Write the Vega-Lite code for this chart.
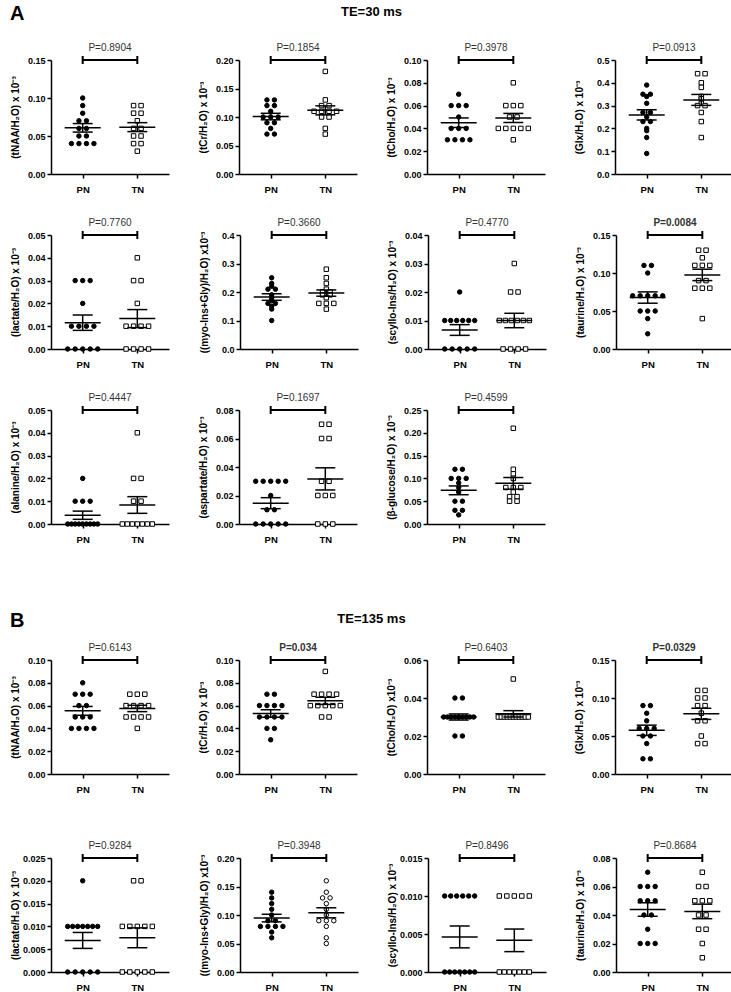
{
"$schema":"https://vega.github.io/schema/vega-lite/v6.json",
"padding":{"left":10,"top":4,"right":0,"bottom":2},
"datasets":{"d":[
{"p":"A1","g":"PN","v":0.10},{"p":"A1","g":"PN","v":0.09},{"p":"A1","g":"PN","v":0.08},{"p":"A1","g":"PN","v":0.07},{"p":"A1","g":"PN","v":0.07},{"p":"A1","g":"PN","v":0.06},{"p":"A1","g":"PN","v":0.06},{"p":"A1","g":"PN","v":0.05},{"p":"A1","g":"PN","v":0.05},{"p":"A1","g":"PN","v":0.04},{"p":"A1","g":"PN","v":0.04},{"p":"A1","g":"PN","v":0.04},{"p":"A1","g":"PN","v":0.04},
{"p":"A1","g":"TN","v":0.09},{"p":"A1","g":"TN","v":0.09},{"p":"A1","g":"TN","v":0.08},{"p":"A1","g":"TN","v":0.08},{"p":"A1","g":"TN","v":0.07},{"p":"A1","g":"TN","v":0.06},{"p":"A1","g":"TN","v":0.06},{"p":"A1","g":"TN","v":0.05},{"p":"A1","g":"TN","v":0.05},{"p":"A1","g":"TN","v":0.04},{"p":"A1","g":"TN","v":0.04},{"p":"A1","g":"TN","v":0.03},
{"p":"A2","g":"PN","v":0.13},{"p":"A2","g":"PN","v":0.13},{"p":"A2","g":"PN","v":0.12},{"p":"A2","g":"PN","v":0.12},{"p":"A2","g":"PN","v":0.11},{"p":"A2","g":"PN","v":0.10},{"p":"A2","g":"PN","v":0.10},{"p":"A2","g":"PN","v":0.10},{"p":"A2","g":"PN","v":0.09},{"p":"A2","g":"PN","v":0.09},{"p":"A2","g":"PN","v":0.08},{"p":"A2","g":"PN","v":0.07},{"p":"A2","g":"PN","v":0.07},
{"p":"A2","g":"TN","v":0.18},{"p":"A2","g":"TN","v":0.13},{"p":"A2","g":"TN","v":0.12},{"p":"A2","g":"TN","v":0.12},{"p":"A2","g":"TN","v":0.11},{"p":"A2","g":"TN","v":0.11},{"p":"A2","g":"TN","v":0.11},{"p":"A2","g":"TN","v":0.11},{"p":"A2","g":"TN","v":0.10},{"p":"A2","g":"TN","v":0.10},{"p":"A2","g":"TN","v":0.08},{"p":"A2","g":"TN","v":0.07},
{"p":"A3","g":"PN","v":0.07},{"p":"A3","g":"PN","v":0.06},{"p":"A3","g":"PN","v":0.06},{"p":"A3","g":"PN","v":0.06},{"p":"A3","g":"PN","v":0.05},{"p":"A3","g":"PN","v":0.04},{"p":"A3","g":"PN","v":0.04},{"p":"A3","g":"PN","v":0.04},{"p":"A3","g":"PN","v":0.03},{"p":"A3","g":"PN","v":0.03},{"p":"A3","g":"PN","v":0.03},{"p":"A3","g":"PN","v":0.03},
{"p":"A3","g":"TN","v":0.08},{"p":"A3","g":"TN","v":0.06},{"p":"A3","g":"TN","v":0.06},{"p":"A3","g":"TN","v":0.06},{"p":"A3","g":"TN","v":0.05},{"p":"A3","g":"TN","v":0.05},{"p":"A3","g":"TN","v":0.04},{"p":"A3","g":"TN","v":0.04},{"p":"A3","g":"TN","v":0.04},{"p":"A3","g":"TN","v":0.04},{"p":"A3","g":"TN","v":0.04},{"p":"A3","g":"TN","v":0.03},
{"p":"A4","g":"PN","v":0.39},{"p":"A4","g":"PN","v":0.35},{"p":"A4","g":"PN","v":0.35},{"p":"A4","g":"PN","v":0.34},{"p":"A4","g":"PN","v":0.31},{"p":"A4","g":"PN","v":0.27},{"p":"A4","g":"PN","v":0.27},{"p":"A4","g":"PN","v":0.25},{"p":"A4","g":"PN","v":0.23},{"p":"A4","g":"PN","v":0.23},{"p":"A4","g":"PN","v":0.20},{"p":"A4","g":"PN","v":0.19},{"p":"A4","g":"PN","v":0.16},{"p":"A4","g":"PN","v":0.09},
{"p":"A4","g":"TN","v":0.44},{"p":"A4","g":"TN","v":0.44},{"p":"A4","g":"TN","v":0.40},{"p":"A4","g":"TN","v":0.38},{"p":"A4","g":"TN","v":0.34},{"p":"A4","g":"TN","v":0.33},{"p":"A4","g":"TN","v":0.31},{"p":"A4","g":"TN","v":0.30},{"p":"A4","g":"TN","v":0.30},{"p":"A4","g":"TN","v":0.27},{"p":"A4","g":"TN","v":0.23},{"p":"A4","g":"TN","v":0.16},
{"p":"A5","g":"PN","v":0.03},{"p":"A5","g":"PN","v":0.03},{"p":"A5","g":"PN","v":0.03},{"p":"A5","g":"PN","v":0.02},{"p":"A5","g":"PN","v":0.01},{"p":"A5","g":"PN","v":0.01},{"p":"A5","g":"PN","v":0.01},{"p":"A5","g":"PN","v":0.01},{"p":"A5","g":"PN","v":0},{"p":"A5","g":"PN","v":0},{"p":"A5","g":"PN","v":0},{"p":"A5","g":"PN","v":0},{"p":"A5","g":"PN","v":0},
{"p":"A5","g":"TN","v":0.04},{"p":"A5","g":"TN","v":0.03},{"p":"A5","g":"TN","v":0.03},{"p":"A5","g":"TN","v":0.02},{"p":"A5","g":"TN","v":0.01},{"p":"A5","g":"TN","v":0.01},{"p":"A5","g":"TN","v":0.01},{"p":"A5","g":"TN","v":0.01},{"p":"A5","g":"TN","v":0},{"p":"A5","g":"TN","v":0},{"p":"A5","g":"TN","v":0},{"p":"A5","g":"TN","v":0},
{"p":"A6","g":"PN","v":0.25},{"p":"A6","g":"PN","v":0.23},{"p":"A6","g":"PN","v":0.22},{"p":"A6","g":"PN","v":0.21},{"p":"A6","g":"PN","v":0.21},{"p":"A6","g":"PN","v":0.19},{"p":"A6","g":"PN","v":0.18},{"p":"A6","g":"PN","v":0.17},{"p":"A6","g":"PN","v":0.16},{"p":"A6","g":"PN","v":0.16},{"p":"A6","g":"PN","v":0.15},{"p":"A6","g":"PN","v":0.14},{"p":"A6","g":"PN","v":0.10},
{"p":"A6","g":"TN","v":0.28},{"p":"A6","g":"TN","v":0.25},{"p":"A6","g":"TN","v":0.23},{"p":"A6","g":"TN","v":0.21},{"p":"A6","g":"TN","v":0.20},{"p":"A6","g":"TN","v":0.20},{"p":"A6","g":"TN","v":0.19},{"p":"A6","g":"TN","v":0.19},{"p":"A6","g":"TN","v":0.18},{"p":"A6","g":"TN","v":0.16},{"p":"A6","g":"TN","v":0.16},{"p":"A6","g":"TN","v":0.16},{"p":"A6","g":"TN","v":0.14},
{"p":"A7","g":"PN","v":0.02},{"p":"A7","g":"PN","v":0.01},{"p":"A7","g":"PN","v":0.01},{"p":"A7","g":"PN","v":0.01},{"p":"A7","g":"PN","v":0.01},{"p":"A7","g":"PN","v":0.01},{"p":"A7","g":"PN","v":0.01},{"p":"A7","g":"PN","v":0},{"p":"A7","g":"PN","v":0},{"p":"A7","g":"PN","v":0},{"p":"A7","g":"PN","v":0},{"p":"A7","g":"PN","v":0},
{"p":"A7","g":"TN","v":0.03},{"p":"A7","g":"TN","v":0.02},{"p":"A7","g":"TN","v":0.02},{"p":"A7","g":"TN","v":0.01},{"p":"A7","g":"TN","v":0.01},{"p":"A7","g":"TN","v":0.01},{"p":"A7","g":"TN","v":0.01},{"p":"A7","g":"TN","v":0.01},{"p":"A7","g":"TN","v":0.01},{"p":"A7","g":"TN","v":0},{"p":"A7","g":"TN","v":0},{"p":"A7","g":"TN","v":0},{"p":"A7","g":"TN","v":0},
{"p":"A8","g":"PN","v":0.11},{"p":"A8","g":"PN","v":0.11},{"p":"A8","g":"PN","v":0.10},{"p":"A8","g":"PN","v":0.07},{"p":"A8","g":"PN","v":0.07},{"p":"A8","g":"PN","v":0.07},{"p":"A8","g":"PN","v":0.07},{"p":"A8","g":"PN","v":0.07},{"p":"A8","g":"PN","v":0.05},{"p":"A8","g":"PN","v":0.05},{"p":"A8","g":"PN","v":0.05},{"p":"A8","g":"PN","v":0.04},{"p":"A8","g":"PN","v":0.02},
{"p":"A8","g":"TN","v":0.13},{"p":"A8","g":"TN","v":0.13},{"p":"A8","g":"TN","v":0.12},{"p":"A8","g":"TN","v":0.11},{"p":"A8","g":"TN","v":0.11},{"p":"A8","g":"TN","v":0.11},{"p":"A8","g":"TN","v":0.09},{"p":"A8","g":"TN","v":0.09},{"p":"A8","g":"TN","v":0.08},{"p":"A8","g":"TN","v":0.08},{"p":"A8","g":"TN","v":0.08},{"p":"A8","g":"TN","v":0.04},
{"p":"A9","g":"PN","v":0.02},{"p":"A9","g":"PN","v":0.01},{"p":"A9","g":"PN","v":0.01},{"p":"A9","g":"PN","v":0.01},{"p":"A9","g":"PN","v":0},{"p":"A9","g":"PN","v":0},{"p":"A9","g":"PN","v":0},{"p":"A9","g":"PN","v":0},{"p":"A9","g":"PN","v":0},{"p":"A9","g":"PN","v":0},{"p":"A9","g":"PN","v":0},{"p":"A9","g":"PN","v":0},{"p":"A9","g":"PN","v":0},
{"p":"A9","g":"TN","v":0.04},{"p":"A9","g":"TN","v":0.02},{"p":"A9","g":"TN","v":0.02},{"p":"A9","g":"TN","v":0.01},{"p":"A9","g":"TN","v":0.01},{"p":"A9","g":"TN","v":0},{"p":"A9","g":"TN","v":0},{"p":"A9","g":"TN","v":0},{"p":"A9","g":"TN","v":0},{"p":"A9","g":"TN","v":0},{"p":"A9","g":"TN","v":0},{"p":"A9","g":"TN","v":0},
{"p":"A10","g":"PN","v":0.03},{"p":"A10","g":"PN","v":0.03},{"p":"A10","g":"PN","v":0.03},{"p":"A10","g":"PN","v":0.03},{"p":"A10","g":"PN","v":0.03},{"p":"A10","g":"PN","v":0.02},{"p":"A10","g":"PN","v":0.01},{"p":"A10","g":"PN","v":0.01},{"p":"A10","g":"PN","v":0},{"p":"A10","g":"PN","v":0},{"p":"A10","g":"PN","v":0},{"p":"A10","g":"PN","v":0},{"p":"A10","g":"PN","v":0},
{"p":"A10","g":"TN","v":0.07},{"p":"A10","g":"TN","v":0.07},{"p":"A10","g":"TN","v":0.06},{"p":"A10","g":"TN","v":0.06},{"p":"A10","g":"TN","v":0.03},{"p":"A10","g":"TN","v":0.03},{"p":"A10","g":"TN","v":0.02},{"p":"A10","g":"TN","v":0.02},{"p":"A10","g":"TN","v":0.02},{"p":"A10","g":"TN","v":0},{"p":"A10","g":"TN","v":0},{"p":"A10","g":"TN","v":0},
{"p":"A11","g":"PN","v":0.12},{"p":"A11","g":"PN","v":0.12},{"p":"A11","g":"PN","v":0.10},{"p":"A11","g":"PN","v":0.10},{"p":"A11","g":"PN","v":0.10},{"p":"A11","g":"PN","v":0.09},{"p":"A11","g":"PN","v":0.08},{"p":"A11","g":"PN","v":0.07},{"p":"A11","g":"PN","v":0.05},{"p":"A11","g":"PN","v":0.05},{"p":"A11","g":"PN","v":0.03},{"p":"A11","g":"PN","v":0.03},{"p":"A11","g":"PN","v":0.02},
{"p":"A11","g":"TN","v":0.21},{"p":"A11","g":"TN","v":0.12},{"p":"A11","g":"TN","v":0.11},{"p":"A11","g":"TN","v":0.10},{"p":"A11","g":"TN","v":0.08},{"p":"A11","g":"TN","v":0.08},{"p":"A11","g":"TN","v":0.08},{"p":"A11","g":"TN","v":0.07},{"p":"A11","g":"TN","v":0.06},{"p":"A11","g":"TN","v":0.06},{"p":"A11","g":"TN","v":0.05},{"p":"A11","g":"TN","v":0.05},
{"p":"B1","g":"PN","v":0.08},{"p":"B1","g":"PN","v":0.07},{"p":"B1","g":"PN","v":0.07},{"p":"B1","g":"PN","v":0.07},{"p":"B1","g":"PN","v":0.06},{"p":"B1","g":"PN","v":0.06},{"p":"B1","g":"PN","v":0.05},{"p":"B1","g":"PN","v":0.05},{"p":"B1","g":"PN","v":0.05},{"p":"B1","g":"PN","v":0.04},{"p":"B1","g":"PN","v":0.04},{"p":"B1","g":"PN","v":0.04},{"p":"B1","g":"PN","v":0.04},
{"p":"B1","g":"TN","v":0.07},{"p":"B1","g":"TN","v":0.07},{"p":"B1","g":"TN","v":0.07},{"p":"B1","g":"TN","v":0.06},{"p":"B1","g":"TN","v":0.06},{"p":"B1","g":"TN","v":0.06},{"p":"B1","g":"TN","v":0.06},{"p":"B1","g":"TN","v":0.05},{"p":"B1","g":"TN","v":0.05},{"p":"B1","g":"TN","v":0.05},{"p":"B1","g":"TN","v":0.05},{"p":"B1","g":"TN","v":0.04},
{"p":"B2","g":"PN","v":0.07},{"p":"B2","g":"PN","v":0.07},{"p":"B2","g":"PN","v":0.06},{"p":"B2","g":"PN","v":0.06},{"p":"B2","g":"PN","v":0.06},{"p":"B2","g":"PN","v":0.06},{"p":"B2","g":"PN","v":0.05},{"p":"B2","g":"PN","v":0.05},{"p":"B2","g":"PN","v":0.05},{"p":"B2","g":"PN","v":0.05},{"p":"B2","g":"PN","v":0.04},{"p":"B2","g":"PN","v":0.04},{"p":"B2","g":"PN","v":0.03},
{"p":"B2","g":"TN","v":0.09},{"p":"B2","g":"TN","v":0.07},{"p":"B2","g":"TN","v":0.07},{"p":"B2","g":"TN","v":0.07},{"p":"B2","g":"TN","v":0.07},{"p":"B2","g":"TN","v":0.06},{"p":"B2","g":"TN","v":0.06},{"p":"B2","g":"TN","v":0.06},{"p":"B2","g":"TN","v":0.06},{"p":"B2","g":"TN","v":0.06},{"p":"B2","g":"TN","v":0.05},{"p":"B2","g":"TN","v":0.05},
{"p":"B3","g":"PN","v":0.04},{"p":"B3","g":"PN","v":0.04},{"p":"B3","g":"PN","v":0.03},{"p":"B3","g":"PN","v":0.03},{"p":"B3","g":"PN","v":0.03},{"p":"B3","g":"PN","v":0.03},{"p":"B3","g":"PN","v":0.03},{"p":"B3","g":"PN","v":0.03},{"p":"B3","g":"PN","v":0.03},{"p":"B3","g":"PN","v":0.03},{"p":"B3","g":"PN","v":0.03},{"p":"B3","g":"PN","v":0.02},{"p":"B3","g":"PN","v":0.02},
{"p":"B3","g":"TN","v":0.05},{"p":"B3","g":"TN","v":0.03},{"p":"B3","g":"TN","v":0.03},{"p":"B3","g":"TN","v":0.03},{"p":"B3","g":"TN","v":0.03},{"p":"B3","g":"TN","v":0.03},{"p":"B3","g":"TN","v":0.03},{"p":"B3","g":"TN","v":0.03},{"p":"B3","g":"TN","v":0.03},{"p":"B3","g":"TN","v":0.03},{"p":"B3","g":"TN","v":0.03},{"p":"B3","g":"TN","v":0.03},
{"p":"B4","g":"PN","v":0.09},{"p":"B4","g":"PN","v":0.09},{"p":"B4","g":"PN","v":0.08},{"p":"B4","g":"PN","v":0.07},{"p":"B4","g":"PN","v":0.06},{"p":"B4","g":"PN","v":0.06},{"p":"B4","g":"PN","v":0.06},{"p":"B4","g":"PN","v":0.05},{"p":"B4","g":"PN","v":0.05},{"p":"B4","g":"PN","v":0.04},{"p":"B4","g":"PN","v":0.02},{"p":"B4","g":"PN","v":0.02},
{"p":"B4","g":"TN","v":0.11},{"p":"B4","g":"TN","v":0.11},{"p":"B4","g":"TN","v":0.10},{"p":"B4","g":"TN","v":0.10},{"p":"B4","g":"TN","v":0.09},{"p":"B4","g":"TN","v":0.09},{"p":"B4","g":"TN","v":0.08},{"p":"B4","g":"TN","v":0.07},{"p":"B4","g":"TN","v":0.07},{"p":"B4","g":"TN","v":0.05},{"p":"B4","g":"TN","v":0.04},{"p":"B4","g":"TN","v":0.04},
{"p":"B5","g":"PN","v":0.02},{"p":"B5","g":"PN","v":0.01},{"p":"B5","g":"PN","v":0.01},{"p":"B5","g":"PN","v":0.01},{"p":"B5","g":"PN","v":0.01},{"p":"B5","g":"PN","v":0.01},{"p":"B5","g":"PN","v":0.01},{"p":"B5","g":"PN","v":0.01},{"p":"B5","g":"PN","v":0},{"p":"B5","g":"PN","v":0},{"p":"B5","g":"PN","v":0},{"p":"B5","g":"PN","v":0},{"p":"B5","g":"PN","v":0},
{"p":"B5","g":"TN","v":0.02},{"p":"B5","g":"TN","v":0.02},{"p":"B5","g":"TN","v":0.01},{"p":"B5","g":"TN","v":0.01},{"p":"B5","g":"TN","v":0.01},{"p":"B5","g":"TN","v":0.01},{"p":"B5","g":"TN","v":0.01},{"p":"B5","g":"TN","v":0},{"p":"B5","g":"TN","v":0},{"p":"B5","g":"TN","v":0},{"p":"B5","g":"TN","v":0},{"p":"B5","g":"TN","v":0},
{"p":"B6","g":"PN","v":0.14},{"p":"B6","g":"PN","v":0.13},{"p":"B6","g":"PN","v":0.12},{"p":"B6","g":"PN","v":0.11},{"p":"B6","g":"PN","v":0.10},{"p":"B6","g":"PN","v":0.09},{"p":"B6","g":"PN","v":0.09},{"p":"B6","g":"PN","v":0.08},{"p":"B6","g":"PN","v":0.08},{"p":"B6","g":"PN","v":0.08},{"p":"B6","g":"PN","v":0.08},{"p":"B6","g":"PN","v":0.07},{"p":"B6","g":"PN","v":0.06},
{"p":"B6","g":"TN","v":0.16},{"p":"B6","g":"TN","v":0.14},{"p":"B6","g":"TN","v":0.13},{"p":"B6","g":"TN","v":0.13},{"p":"B6","g":"TN","v":0.12},{"p":"B6","g":"TN","v":0.11},{"p":"B6","g":"TN","v":0.10},{"p":"B6","g":"TN","v":0.09},{"p":"B6","g":"TN","v":0.09},{"p":"B6","g":"TN","v":0.09},{"p":"B6","g":"TN","v":0.08},{"p":"B6","g":"TN","v":0.06},{"p":"B6","g":"TN","v":0.05},
{"p":"B7","g":"PN","v":0.01},{"p":"B7","g":"PN","v":0.01},{"p":"B7","g":"PN","v":0.01},{"p":"B7","g":"PN","v":0.01},{"p":"B7","g":"PN","v":0.01},{"p":"B7","g":"PN","v":0.01},{"p":"B7","g":"PN","v":0},{"p":"B7","g":"PN","v":0},{"p":"B7","g":"PN","v":0},{"p":"B7","g":"PN","v":0},{"p":"B7","g":"PN","v":0},{"p":"B7","g":"PN","v":0},{"p":"B7","g":"PN","v":0},
{"p":"B7","g":"TN","v":0.01},{"p":"B7","g":"TN","v":0.01},{"p":"B7","g":"TN","v":0.01},{"p":"B7","g":"TN","v":0.01},{"p":"B7","g":"TN","v":0.01},{"p":"B7","g":"TN","v":0},{"p":"B7","g":"TN","v":0},{"p":"B7","g":"TN","v":0},{"p":"B7","g":"TN","v":0},{"p":"B7","g":"TN","v":0},{"p":"B7","g":"TN","v":0},{"p":"B7","g":"TN","v":0},
{"p":"B8","g":"PN","v":0.07},{"p":"B8","g":"PN","v":0.06},{"p":"B8","g":"PN","v":0.06},{"p":"B8","g":"PN","v":0.06},{"p":"B8","g":"PN","v":0.05},{"p":"B8","g":"PN","v":0.05},{"p":"B8","g":"PN","v":0.05},{"p":"B8","g":"PN","v":0.04},{"p":"B8","g":"PN","v":0.04},{"p":"B8","g":"PN","v":0.03},{"p":"B8","g":"PN","v":0.02},{"p":"B8","g":"PN","v":0.02},{"p":"B8","g":"PN","v":0.02},
{"p":"B8","g":"TN","v":0.07},{"p":"B8","g":"TN","v":0.06},{"p":"B8","g":"TN","v":0.06},{"p":"B8","g":"TN","v":0.05},{"p":"B8","g":"TN","v":0.05},{"p":"B8","g":"TN","v":0.05},{"p":"B8","g":"TN","v":0.04},{"p":"B8","g":"TN","v":0.04},{"p":"B8","g":"TN","v":0.03},{"p":"B8","g":"TN","v":0.03},{"p":"B8","g":"TN","v":0.02},{"p":"B8","g":"TN","v":0.01}
]},
"data":{"name":"d"},
"config":{
 "font":"Liberation Sans",
 "view":{"stroke":null},
 "legend":{"disable":true},
 "axis":{"grid":false,"domainColor":"black","domainWidth":1.5,"tickColor":"black","tickWidth":1.5,"tickSize":4,"labelColor":"black","labelFont":"Liberation Sans","labelFontSize":9,"labelFontWeight":"bold","titleFont":"Liberation Sans","titleFontSize":10,"titleFontWeight":"bold","titleColor":"black","labelOverlap":false},
 "axisY":{"minExtent":27,"maxExtent":27,"titlePadding":4,"labelPadding":2,"labelOverlap":false,"labelFlush":false,"tickCount":20},
 "axisX":{"labelAngle":0,"labelPadding":6,"labelFontSize":9.5},
 "title":{"font":"Liberation Sans","fontSize":10,"fontWeight":"normal","color":"#333333","anchor":"middle","frame":"group","offset":-1},
 "point":{"opacity":1},
 "tick":{"opacity":1}
},
"spacing":67,
"vconcat":[
{"title":{"text":"A","anchor":"start","frame":"bounds","fontSize":20,"fontWeight":"bold","color":"black","offset":0,"dy":18},
 "spacing":24,
 "vconcat":[
 {"title":{"text":"TE=30 ms","anchor":"middle","frame":"bounds","fontSize":13,"fontWeight":"bold","color":"black","offset":24},
  "spacing":29,
  "hconcat":[
  {"width":118,"height":114,"title":{"text":"P=0.8904"},
   "encoding":{"x":{"field":"g","type":"nominal","scale":{"type":"point","domain":["PN","TN"],"padding":0.58},"axis":{"title":null}}},
   "layer":[
    {"transform":[{"filter":"datum.p==='A1'"},{"joinaggregate":[{"op":"count","as":"n"}],"groupby":["g","v"]},{"window":[{"op":"row_number","as":"r"}],"groupby":["g","v"]},{"calculate":"(datum.r-(datum.n+1)/2)*min(1,4/max(1,datum.n-1))","as":"off"}],
     "mark":{"type":"point","filled":true,"stroke":"black","strokeWidth":1,"size":20,"opacity":1},
     "encoding":{"y":{"field":"v","type":"quantitative","scale":{"domain":[0,0.15],"nice":false},"title":"(tNAA/H₂O) x 10⁻³","axis":{"values":[0,0.05,0.1,0.15],"format":".2f","labelOverlap":false,"tickCount":20}},
      "xOffset":{"field":"off","type":"quantitative","scale":{"domain":[-1,1],"range":[-7.5,7.5]}},
      "shape":{"field":"g","type":"nominal","scale":{"domain":["PN","TN"],"range":["circle","square"]},"legend":null},
      "fill":{"field":"g","type":"nominal","scale":{"domain":["PN","TN"],"range":["black","white"]},"legend":null}}},
    {"transform":[{"filter":"datum.p==='A1'"}],"mark":{"type":"tick","size":36,"thickness":1.5,"color":"black","opacity":1},"encoding":{"y":{"aggregate":"mean","field":"v","type":"quantitative","scale":{"domain":[0,0.15],"nice":false},"title":"(tNAA/H₂O) x 10⁻³","axis":{"values":[0,0.05,0.1,0.15],"format":".2f","labelOverlap":false,"tickCount":20}}}},
    {"transform":[{"filter":"datum.p==='A1'"}],"mark":{"type":"errorbar","extent":"stderr","color":"black","thickness":1.5,"size":20,"ticks":true},"encoding":{"y":{"field":"v","type":"quantitative","scale":{"domain":[0,0.15],"nice":false},"title":"(tNAA/H₂O) x 10⁻³","axis":{"values":[0,0.05,0.1,0.15],"format":".2f","labelOverlap":false,"tickCount":20}}}},
    {"data":{"values":[{}]},"mark":{"type":"rule","color":"black","strokeWidth":2},"encoding":{"x":{"datum":"PN"},"x2":{"datum":"TN"},"y":{"datum":0.15}}},
    {"data":{"values":[{"g":"PN"},{"g":"TN"}]},"mark":{"type":"point","shape":"M0,-1L0,1","size":64,"stroke":"black","strokeWidth":2,"opacity":1},"encoding":{"y":{"datum":0.15}}}
   ]},
  {"width":118,"height":114,"title":{"text":"P=0.1854"},
   "encoding":{"x":{"field":"g","type":"nominal","scale":{"type":"point","domain":["PN","TN"],"padding":0.58},"axis":{"title":null}}},
   "layer":[
    {"transform":[{"filter":"datum.p==='A2'"},{"joinaggregate":[{"op":"count","as":"n"}],"groupby":["g","v"]},{"window":[{"op":"row_number","as":"r"}],"groupby":["g","v"]},{"calculate":"(datum.r-(datum.n+1)/2)*min(1,4/max(1,datum.n-1))","as":"off"}],
     "mark":{"type":"point","filled":true,"stroke":"black","strokeWidth":1,"size":20,"opacity":1},
     "encoding":{"y":{"field":"v","type":"quantitative","scale":{"domain":[0,0.2],"nice":false},"title":"(tCr/H₂O) x 10⁻³","axis":{"values":[0,0.05,0.1,0.15,0.2],"format":".2f","labelOverlap":false,"tickCount":20}},
      "xOffset":{"field":"off","type":"quantitative","scale":{"domain":[-1,1],"range":[-7.5,7.5]}},
      "shape":{"field":"g","type":"nominal","scale":{"domain":["PN","TN"],"range":["circle","square"]},"legend":null},
      "fill":{"field":"g","type":"nominal","scale":{"domain":["PN","TN"],"range":["black","white"]},"legend":null}}},
    {"transform":[{"filter":"datum.p==='A2'"}],"mark":{"type":"tick","size":36,"thickness":1.5,"color":"black","opacity":1},"encoding":{"y":{"aggregate":"mean","field":"v","type":"quantitative","scale":{"domain":[0,0.2],"nice":false},"title":"(tCr/H₂O) x 10⁻³","axis":{"values":[0,0.05,0.1,0.15,0.2],"format":".2f","labelOverlap":false,"tickCount":20}}}},
    {"transform":[{"filter":"datum.p==='A2'"}],"mark":{"type":"errorbar","extent":"stderr","color":"black","thickness":1.5,"size":20,"ticks":true},"encoding":{"y":{"field":"v","type":"quantitative","scale":{"domain":[0,0.2],"nice":false},"title":"(tCr/H₂O) x 10⁻³","axis":{"values":[0,0.05,0.1,0.15,0.2],"format":".2f","labelOverlap":false,"tickCount":20}}}},
    {"data":{"values":[{}]},"mark":{"type":"rule","color":"black","strokeWidth":2},"encoding":{"x":{"datum":"PN"},"x2":{"datum":"TN"},"y":{"datum":0.2}}},
    {"data":{"values":[{"g":"PN"},{"g":"TN"}]},"mark":{"type":"point","shape":"M0,-1L0,1","size":64,"stroke":"black","strokeWidth":2,"opacity":1},"encoding":{"y":{"datum":0.2}}}
   ]},
  {"width":118,"height":114,"title":{"text":"P=0.3978"},
   "encoding":{"x":{"field":"g","type":"nominal","scale":{"type":"point","domain":["PN","TN"],"padding":0.58},"axis":{"title":null}}},
   "layer":[
    {"transform":[{"filter":"datum.p==='A3'"},{"joinaggregate":[{"op":"count","as":"n"}],"groupby":["g","v"]},{"window":[{"op":"row_number","as":"r"}],"groupby":["g","v"]},{"calculate":"(datum.r-(datum.n+1)/2)*min(1,4/max(1,datum.n-1))","as":"off"}],
     "mark":{"type":"point","filled":true,"stroke":"black","strokeWidth":1,"size":20,"opacity":1},
     "encoding":{"y":{"field":"v","type":"quantitative","scale":{"domain":[0,0.1],"nice":false},"title":"(tCho/H₂O) x 10⁻³","axis":{"values":[0,0.02,0.04,0.06,0.08,0.1],"format":".2f","labelOverlap":false,"tickCount":20}},
      "xOffset":{"field":"off","type":"quantitative","scale":{"domain":[-1,1],"range":[-7.5,7.5]}},
      "shape":{"field":"g","type":"nominal","scale":{"domain":["PN","TN"],"range":["circle","square"]},"legend":null},
      "fill":{"field":"g","type":"nominal","scale":{"domain":["PN","TN"],"range":["black","white"]},"legend":null}}},
    {"transform":[{"filter":"datum.p==='A3'"}],"mark":{"type":"tick","size":36,"thickness":1.5,"color":"black","opacity":1},"encoding":{"y":{"aggregate":"mean","field":"v","type":"quantitative","scale":{"domain":[0,0.1],"nice":false},"title":"(tCho/H₂O) x 10⁻³","axis":{"values":[0,0.02,0.04,0.06,0.08,0.1],"format":".2f","labelOverlap":false,"tickCount":20}}}},
    {"transform":[{"filter":"datum.p==='A3'"}],"mark":{"type":"errorbar","extent":"stderr","color":"black","thickness":1.5,"size":20,"ticks":true},"encoding":{"y":{"field":"v","type":"quantitative","scale":{"domain":[0,0.1],"nice":false},"title":"(tCho/H₂O) x 10⁻³","axis":{"values":[0,0.02,0.04,0.06,0.08,0.1],"format":".2f","labelOverlap":false,"tickCount":20}}}},
    {"data":{"values":[{}]},"mark":{"type":"rule","color":"black","strokeWidth":2},"encoding":{"x":{"datum":"PN"},"x2":{"datum":"TN"},"y":{"datum":0.1}}},
    {"data":{"values":[{"g":"PN"},{"g":"TN"}]},"mark":{"type":"point","shape":"M0,-1L0,1","size":64,"stroke":"black","strokeWidth":2,"opacity":1},"encoding":{"y":{"datum":0.1}}}
   ]},
  {"width":118,"height":114,"title":{"text":"P=0.0913"},
   "encoding":{"x":{"field":"g","type":"nominal","scale":{"type":"point","domain":["PN","TN"],"padding":0.58},"axis":{"title":null}}},
   "layer":[
    {"transform":[{"filter":"datum.p==='A4'"},{"joinaggregate":[{"op":"count","as":"n"}],"groupby":["g","v"]},{"window":[{"op":"row_number","as":"r"}],"groupby":["g","v"]},{"calculate":"(datum.r-(datum.n+1)/2)*min(1,4/max(1,datum.n-1))","as":"off"}],
     "mark":{"type":"point","filled":true,"stroke":"black","strokeWidth":1,"size":20,"opacity":1},
     "encoding":{"y":{"field":"v","type":"quantitative","scale":{"domain":[0,0.5],"nice":false},"title":"(Glx/H₂O) x 10⁻³","axis":{"values":[0,0.1,0.2,0.3,0.4,0.5],"format":".1f","labelOverlap":false,"tickCount":20}},
      "xOffset":{"field":"off","type":"quantitative","scale":{"domain":[-1,1],"range":[-7.5,7.5]}},
      "shape":{"field":"g","type":"nominal","scale":{"domain":["PN","TN"],"range":["circle","square"]},"legend":null},
      "fill":{"field":"g","type":"nominal","scale":{"domain":["PN","TN"],"range":["black","white"]},"legend":null}}},
    {"transform":[{"filter":"datum.p==='A4'"}],"mark":{"type":"tick","size":36,"thickness":1.5,"color":"black","opacity":1},"encoding":{"y":{"aggregate":"mean","field":"v","type":"quantitative","scale":{"domain":[0,0.5],"nice":false},"title":"(Glx/H₂O) x 10⁻³","axis":{"values":[0,0.1,0.2,0.3,0.4,0.5],"format":".1f","labelOverlap":false,"tickCount":20}}}},
    {"transform":[{"filter":"datum.p==='A4'"}],"mark":{"type":"errorbar","extent":"stderr","color":"black","thickness":1.5,"size":20,"ticks":true},"encoding":{"y":{"field":"v","type":"quantitative","scale":{"domain":[0,0.5],"nice":false},"title":"(Glx/H₂O) x 10⁻³","axis":{"values":[0,0.1,0.2,0.3,0.4,0.5],"format":".1f","labelOverlap":false,"tickCount":20}}}},
    {"data":{"values":[{}]},"mark":{"type":"rule","color":"black","strokeWidth":2},"encoding":{"x":{"datum":"PN"},"x2":{"datum":"TN"},"y":{"datum":0.5}}},
    {"data":{"values":[{"g":"PN"},{"g":"TN"}]},"mark":{"type":"point","shape":"M0,-1L0,1","size":64,"stroke":"black","strokeWidth":2,"opacity":1},"encoding":{"y":{"datum":0.5}}}
   ]}
  ]},
 {"spacing":29,
  "hconcat":[
  {"width":118,"height":114,"title":{"text":"P=0.7760"},
   "encoding":{"x":{"field":"g","type":"nominal","scale":{"type":"point","domain":["PN","TN"],"padding":0.58},"axis":{"title":null}}},
   "layer":[
    {"transform":[{"filter":"datum.p==='A5'"},{"joinaggregate":[{"op":"count","as":"n"}],"groupby":["g","v"]},{"window":[{"op":"row_number","as":"r"}],"groupby":["g","v"]},{"calculate":"(datum.r-(datum.n+1)/2)*min(1,4/max(1,datum.n-1))","as":"off"}],
     "mark":{"type":"point","filled":true,"stroke":"black","strokeWidth":1,"size":20,"opacity":1},
     "encoding":{"y":{"field":"v","type":"quantitative","scale":{"domain":[0,0.05],"nice":false},"title":"(lactate/H₂O) x 10⁻³","axis":{"values":[0,0.01,0.02,0.03,0.04,0.05],"format":".2f","labelOverlap":false,"tickCount":20}},
      "xOffset":{"field":"off","type":"quantitative","scale":{"domain":[-1,1],"range":[-7.5,7.5]}},
      "shape":{"field":"g","type":"nominal","scale":{"domain":["PN","TN"],"range":["circle","square"]},"legend":null},
      "fill":{"field":"g","type":"nominal","scale":{"domain":["PN","TN"],"range":["black","white"]},"legend":null}}},
    {"transform":[{"filter":"datum.p==='A5'"}],"mark":{"type":"tick","size":36,"thickness":1.5,"color":"black","opacity":1},"encoding":{"y":{"aggregate":"mean","field":"v","type":"quantitative","scale":{"domain":[0,0.05],"nice":false},"title":"(lactate/H₂O) x 10⁻³","axis":{"values":[0,0.01,0.02,0.03,0.04,0.05],"format":".2f","labelOverlap":false,"tickCount":20}}}},
    {"transform":[{"filter":"datum.p==='A5'"}],"mark":{"type":"errorbar","extent":"stderr","color":"black","thickness":1.5,"size":20,"ticks":true},"encoding":{"y":{"field":"v","type":"quantitative","scale":{"domain":[0,0.05],"nice":false},"title":"(lactate/H₂O) x 10⁻³","axis":{"values":[0,0.01,0.02,0.03,0.04,0.05],"format":".2f","labelOverlap":false,"tickCount":20}}}},
    {"data":{"values":[{}]},"mark":{"type":"rule","color":"black","strokeWidth":2},"encoding":{"x":{"datum":"PN"},"x2":{"datum":"TN"},"y":{"datum":0.05}}},
    {"data":{"values":[{"g":"PN"},{"g":"TN"}]},"mark":{"type":"point","shape":"M0,-1L0,1","size":64,"stroke":"black","strokeWidth":2,"opacity":1},"encoding":{"y":{"datum":0.05}}}
   ]},
  {"width":118,"height":114,"title":{"text":"P=0.3660"},
   "encoding":{"x":{"field":"g","type":"nominal","scale":{"type":"point","domain":["PN","TN"],"padding":0.58},"axis":{"title":null}}},
   "layer":[
    {"transform":[{"filter":"datum.p==='A6'"},{"joinaggregate":[{"op":"count","as":"n"}],"groupby":["g","v"]},{"window":[{"op":"row_number","as":"r"}],"groupby":["g","v"]},{"calculate":"(datum.r-(datum.n+1)/2)*min(1,4/max(1,datum.n-1))","as":"off"}],
     "mark":{"type":"point","filled":true,"stroke":"black","strokeWidth":1,"size":20,"opacity":1},
     "encoding":{"y":{"field":"v","type":"quantitative","scale":{"domain":[0,0.4],"nice":false},"title":"((myo-Ins+Gly)/H₂O) x10⁻³","axis":{"values":[0,0.1,0.2,0.3,0.4],"format":".1f","labelOverlap":false,"tickCount":20}},
      "xOffset":{"field":"off","type":"quantitative","scale":{"domain":[-1,1],"range":[-7.5,7.5]}},
      "shape":{"field":"g","type":"nominal","scale":{"domain":["PN","TN"],"range":["circle","square"]},"legend":null},
      "fill":{"field":"g","type":"nominal","scale":{"domain":["PN","TN"],"range":["black","white"]},"legend":null}}},
    {"transform":[{"filter":"datum.p==='A6'"}],"mark":{"type":"tick","size":36,"thickness":1.5,"color":"black","opacity":1},"encoding":{"y":{"aggregate":"mean","field":"v","type":"quantitative","scale":{"domain":[0,0.4],"nice":false},"title":"((myo-Ins+Gly)/H₂O) x10⁻³","axis":{"values":[0,0.1,0.2,0.3,0.4],"format":".1f","labelOverlap":false,"tickCount":20}}}},
    {"transform":[{"filter":"datum.p==='A6'"}],"mark":{"type":"errorbar","extent":"stderr","color":"black","thickness":1.5,"size":20,"ticks":true},"encoding":{"y":{"field":"v","type":"quantitative","scale":{"domain":[0,0.4],"nice":false},"title":"((myo-Ins+Gly)/H₂O) x10⁻³","axis":{"values":[0,0.1,0.2,0.3,0.4],"format":".1f","labelOverlap":false,"tickCount":20}}}},
    {"data":{"values":[{}]},"mark":{"type":"rule","color":"black","strokeWidth":2},"encoding":{"x":{"datum":"PN"},"x2":{"datum":"TN"},"y":{"datum":0.4}}},
    {"data":{"values":[{"g":"PN"},{"g":"TN"}]},"mark":{"type":"point","shape":"M0,-1L0,1","size":64,"stroke":"black","strokeWidth":2,"opacity":1},"encoding":{"y":{"datum":0.4}}}
   ]},
  {"width":118,"height":114,"title":{"text":"P=0.4770"},
   "encoding":{"x":{"field":"g","type":"nominal","scale":{"type":"point","domain":["PN","TN"],"padding":0.58},"axis":{"title":null}}},
   "layer":[
    {"transform":[{"filter":"datum.p==='A7'"},{"joinaggregate":[{"op":"count","as":"n"}],"groupby":["g","v"]},{"window":[{"op":"row_number","as":"r"}],"groupby":["g","v"]},{"calculate":"(datum.r-(datum.n+1)/2)*min(1,4/max(1,datum.n-1))","as":"off"}],
     "mark":{"type":"point","filled":true,"stroke":"black","strokeWidth":1,"size":20,"opacity":1},
     "encoding":{"y":{"field":"v","type":"quantitative","scale":{"domain":[0,0.04],"nice":false},"title":"(scyllo-Ins/H₂O) x 10⁻³","axis":{"values":[0,0.01,0.02,0.03,0.04],"format":".2f","labelOverlap":false,"tickCount":20}},
      "xOffset":{"field":"off","type":"quantitative","scale":{"domain":[-1,1],"range":[-7.5,7.5]}},
      "shape":{"field":"g","type":"nominal","scale":{"domain":["PN","TN"],"range":["circle","square"]},"legend":null},
      "fill":{"field":"g","type":"nominal","scale":{"domain":["PN","TN"],"range":["black","white"]},"legend":null}}},
    {"transform":[{"filter":"datum.p==='A7'"}],"mark":{"type":"tick","size":36,"thickness":1.5,"color":"black","opacity":1},"encoding":{"y":{"aggregate":"mean","field":"v","type":"quantitative","scale":{"domain":[0,0.04],"nice":false},"title":"(scyllo-Ins/H₂O) x 10⁻³","axis":{"values":[0,0.01,0.02,0.03,0.04],"format":".2f","labelOverlap":false,"tickCount":20}}}},
    {"transform":[{"filter":"datum.p==='A7'"}],"mark":{"type":"errorbar","extent":"stderr","color":"black","thickness":1.5,"size":20,"ticks":true},"encoding":{"y":{"field":"v","type":"quantitative","scale":{"domain":[0,0.04],"nice":false},"title":"(scyllo-Ins/H₂O) x 10⁻³","axis":{"values":[0,0.01,0.02,0.03,0.04],"format":".2f","labelOverlap":false,"tickCount":20}}}},
    {"data":{"values":[{}]},"mark":{"type":"rule","color":"black","strokeWidth":2},"encoding":{"x":{"datum":"PN"},"x2":{"datum":"TN"},"y":{"datum":0.04}}},
    {"data":{"values":[{"g":"PN"},{"g":"TN"}]},"mark":{"type":"point","shape":"M0,-1L0,1","size":64,"stroke":"black","strokeWidth":2,"opacity":1},"encoding":{"y":{"datum":0.04}}}
   ]},
  {"width":118,"height":114,"title":{"text":"P=0.0084","fontWeight":"bold"},
   "encoding":{"x":{"field":"g","type":"nominal","scale":{"type":"point","domain":["PN","TN"],"padding":0.58},"axis":{"title":null}}},
   "layer":[
    {"transform":[{"filter":"datum.p==='A8'"},{"joinaggregate":[{"op":"count","as":"n"}],"groupby":["g","v"]},{"window":[{"op":"row_number","as":"r"}],"groupby":["g","v"]},{"calculate":"(datum.r-(datum.n+1)/2)*min(1,4/max(1,datum.n-1))","as":"off"}],
     "mark":{"type":"point","filled":true,"stroke":"black","strokeWidth":1,"size":20,"opacity":1},
     "encoding":{"y":{"field":"v","type":"quantitative","scale":{"domain":[0,0.15],"nice":false},"title":"(taurine/H₂O) x 10⁻³","axis":{"values":[0,0.05,0.1,0.15],"format":".2f","labelOverlap":false,"tickCount":20}},
      "xOffset":{"field":"off","type":"quantitative","scale":{"domain":[-1,1],"range":[-7.5,7.5]}},
      "shape":{"field":"g","type":"nominal","scale":{"domain":["PN","TN"],"range":["circle","square"]},"legend":null},
      "fill":{"field":"g","type":"nominal","scale":{"domain":["PN","TN"],"range":["black","white"]},"legend":null}}},
    {"transform":[{"filter":"datum.p==='A8'"}],"mark":{"type":"tick","size":36,"thickness":1.5,"color":"black","opacity":1},"encoding":{"y":{"aggregate":"mean","field":"v","type":"quantitative","scale":{"domain":[0,0.15],"nice":false},"title":"(taurine/H₂O) x 10⁻³","axis":{"values":[0,0.05,0.1,0.15],"format":".2f","labelOverlap":false,"tickCount":20}}}},
    {"transform":[{"filter":"datum.p==='A8'"}],"mark":{"type":"errorbar","extent":"stderr","color":"black","thickness":1.5,"size":20,"ticks":true},"encoding":{"y":{"field":"v","type":"quantitative","scale":{"domain":[0,0.15],"nice":false},"title":"(taurine/H₂O) x 10⁻³","axis":{"values":[0,0.05,0.1,0.15],"format":".2f","labelOverlap":false,"tickCount":20}}}},
    {"data":{"values":[{}]},"mark":{"type":"rule","color":"black","strokeWidth":2},"encoding":{"x":{"datum":"PN"},"x2":{"datum":"TN"},"y":{"datum":0.15}}},
    {"data":{"values":[{"g":"PN"},{"g":"TN"}]},"mark":{"type":"point","shape":"M0,-1L0,1","size":64,"stroke":"black","strokeWidth":2,"opacity":1},"encoding":{"y":{"datum":0.15}}}
   ]}
  ]},
 {"spacing":29,
  "hconcat":[
  {"width":118,"height":114,"title":{"text":"P=0.4447"},
   "encoding":{"x":{"field":"g","type":"nominal","scale":{"type":"point","domain":["PN","TN"],"padding":0.58},"axis":{"title":null}}},
   "layer":[
    {"transform":[{"filter":"datum.p==='A9'"},{"joinaggregate":[{"op":"count","as":"n"}],"groupby":["g","v"]},{"window":[{"op":"row_number","as":"r"}],"groupby":["g","v"]},{"calculate":"(datum.r-(datum.n+1)/2)*min(1,4/max(1,datum.n-1))","as":"off"}],
     "mark":{"type":"point","filled":true,"stroke":"black","strokeWidth":1,"size":20,"opacity":1},
     "encoding":{"y":{"field":"v","type":"quantitative","scale":{"domain":[0,0.05],"nice":false},"title":"(alanine/H₂O) x 10⁻³","axis":{"values":[0,0.01,0.02,0.03,0.04,0.05],"format":".2f","labelOverlap":false,"tickCount":20}},
      "xOffset":{"field":"off","type":"quantitative","scale":{"domain":[-1,1],"range":[-7.5,7.5]}},
      "shape":{"field":"g","type":"nominal","scale":{"domain":["PN","TN"],"range":["circle","square"]},"legend":null},
      "fill":{"field":"g","type":"nominal","scale":{"domain":["PN","TN"],"range":["black","white"]},"legend":null}}},
    {"transform":[{"filter":"datum.p==='A9'"}],"mark":{"type":"tick","size":36,"thickness":1.5,"color":"black","opacity":1},"encoding":{"y":{"aggregate":"mean","field":"v","type":"quantitative","scale":{"domain":[0,0.05],"nice":false},"title":"(alanine/H₂O) x 10⁻³","axis":{"values":[0,0.01,0.02,0.03,0.04,0.05],"format":".2f","labelOverlap":false,"tickCount":20}}}},
    {"transform":[{"filter":"datum.p==='A9'"}],"mark":{"type":"errorbar","extent":"stderr","color":"black","thickness":1.5,"size":20,"ticks":true},"encoding":{"y":{"field":"v","type":"quantitative","scale":{"domain":[0,0.05],"nice":false},"title":"(alanine/H₂O) x 10⁻³","axis":{"values":[0,0.01,0.02,0.03,0.04,0.05],"format":".2f","labelOverlap":false,"tickCount":20}}}},
    {"data":{"values":[{}]},"mark":{"type":"rule","color":"black","strokeWidth":2},"encoding":{"x":{"datum":"PN"},"x2":{"datum":"TN"},"y":{"datum":0.05}}},
    {"data":{"values":[{"g":"PN"},{"g":"TN"}]},"mark":{"type":"point","shape":"M0,-1L0,1","size":64,"stroke":"black","strokeWidth":2,"opacity":1},"encoding":{"y":{"datum":0.05}}}
   ]},
  {"width":118,"height":114,"title":{"text":"P=0.1697"},
   "encoding":{"x":{"field":"g","type":"nominal","scale":{"type":"point","domain":["PN","TN"],"padding":0.58},"axis":{"title":null}}},
   "layer":[
    {"transform":[{"filter":"datum.p==='A10'"},{"joinaggregate":[{"op":"count","as":"n"}],"groupby":["g","v"]},{"window":[{"op":"row_number","as":"r"}],"groupby":["g","v"]},{"calculate":"(datum.r-(datum.n+1)/2)*min(1,4/max(1,datum.n-1))","as":"off"}],
     "mark":{"type":"point","filled":true,"stroke":"black","strokeWidth":1,"size":20,"opacity":1},
     "encoding":{"y":{"field":"v","type":"quantitative","scale":{"domain":[0,0.08],"nice":false},"title":"(aspartate/H₂O) x 10⁻³","axis":{"values":[0,0.02,0.04,0.06,0.08],"format":".2f","labelOverlap":false,"tickCount":20}},
      "xOffset":{"field":"off","type":"quantitative","scale":{"domain":[-1,1],"range":[-7.5,7.5]}},
      "shape":{"field":"g","type":"nominal","scale":{"domain":["PN","TN"],"range":["circle","square"]},"legend":null},
      "fill":{"field":"g","type":"nominal","scale":{"domain":["PN","TN"],"range":["black","white"]},"legend":null}}},
    {"transform":[{"filter":"datum.p==='A10'"}],"mark":{"type":"tick","size":36,"thickness":1.5,"color":"black","opacity":1},"encoding":{"y":{"aggregate":"mean","field":"v","type":"quantitative","scale":{"domain":[0,0.08],"nice":false},"title":"(aspartate/H₂O) x 10⁻³","axis":{"values":[0,0.02,0.04,0.06,0.08],"format":".2f","labelOverlap":false,"tickCount":20}}}},
    {"transform":[{"filter":"datum.p==='A10'"}],"mark":{"type":"errorbar","extent":"stderr","color":"black","thickness":1.5,"size":20,"ticks":true},"encoding":{"y":{"field":"v","type":"quantitative","scale":{"domain":[0,0.08],"nice":false},"title":"(aspartate/H₂O) x 10⁻³","axis":{"values":[0,0.02,0.04,0.06,0.08],"format":".2f","labelOverlap":false,"tickCount":20}}}},
    {"data":{"values":[{}]},"mark":{"type":"rule","color":"black","strokeWidth":2},"encoding":{"x":{"datum":"PN"},"x2":{"datum":"TN"},"y":{"datum":0.08}}},
    {"data":{"values":[{"g":"PN"},{"g":"TN"}]},"mark":{"type":"point","shape":"M0,-1L0,1","size":64,"stroke":"black","strokeWidth":2,"opacity":1},"encoding":{"y":{"datum":0.08}}}
   ]},
  {"width":118,"height":114,"title":{"text":"P=0.4599"},
   "encoding":{"x":{"field":"g","type":"nominal","scale":{"type":"point","domain":["PN","TN"],"padding":0.58},"axis":{"title":null}}},
   "layer":[
    {"transform":[{"filter":"datum.p==='A11'"},{"joinaggregate":[{"op":"count","as":"n"}],"groupby":["g","v"]},{"window":[{"op":"row_number","as":"r"}],"groupby":["g","v"]},{"calculate":"(datum.r-(datum.n+1)/2)*min(1,4/max(1,datum.n-1))","as":"off"}],
     "mark":{"type":"point","filled":true,"stroke":"black","strokeWidth":1,"size":20,"opacity":1},
     "encoding":{"y":{"field":"v","type":"quantitative","scale":{"domain":[0,0.25],"nice":false},"title":"(β-glucose/H₂O) x 10⁻³","axis":{"values":[0,0.05,0.1,0.15,0.2,0.25],"format":".2f","labelOverlap":false,"tickCount":20}},
      "xOffset":{"field":"off","type":"quantitative","scale":{"domain":[-1,1],"range":[-7.5,7.5]}},
      "shape":{"field":"g","type":"nominal","scale":{"domain":["PN","TN"],"range":["circle","square"]},"legend":null},
      "fill":{"field":"g","type":"nominal","scale":{"domain":["PN","TN"],"range":["black","white"]},"legend":null}}},
    {"transform":[{"filter":"datum.p==='A11'"}],"mark":{"type":"tick","size":36,"thickness":1.5,"color":"black","opacity":1},"encoding":{"y":{"aggregate":"mean","field":"v","type":"quantitative","scale":{"domain":[0,0.25],"nice":false},"title":"(β-glucose/H₂O) x 10⁻³","axis":{"values":[0,0.05,0.1,0.15,0.2,0.25],"format":".2f","labelOverlap":false,"tickCount":20}}}},
    {"transform":[{"filter":"datum.p==='A11'"}],"mark":{"type":"errorbar","extent":"stderr","color":"black","thickness":1.5,"size":20,"ticks":true},"encoding":{"y":{"field":"v","type":"quantitative","scale":{"domain":[0,0.25],"nice":false},"title":"(β-glucose/H₂O) x 10⁻³","axis":{"values":[0,0.05,0.1,0.15,0.2,0.25],"format":".2f","labelOverlap":false,"tickCount":20}}}},
    {"data":{"values":[{}]},"mark":{"type":"rule","color":"black","strokeWidth":2},"encoding":{"x":{"datum":"PN"},"x2":{"datum":"TN"},"y":{"datum":0.25}}},
    {"data":{"values":[{"g":"PN"},{"g":"TN"}]},"mark":{"type":"point","shape":"M0,-1L0,1","size":64,"stroke":"black","strokeWidth":2,"opacity":1},"encoding":{"y":{"datum":0.25}}}
   ]}
  ]}
 ]},
{"title":{"text":"B","anchor":"start","frame":"bounds","fontSize":20,"fontWeight":"bold","color":"black","offset":0,"dy":18},
 "spacing":47,
 "vconcat":[
 {"title":{"text":"TE=135 ms","anchor":"middle","frame":"bounds","fontSize":13,"fontWeight":"bold","color":"black","offset":17},
  "spacing":29,
  "hconcat":[
  {"width":118,"height":114,"title":{"text":"P=0.6143"},
   "encoding":{"x":{"field":"g","type":"nominal","scale":{"type":"point","domain":["PN","TN"],"padding":0.58},"axis":{"title":null}}},
   "layer":[
    {"transform":[{"filter":"datum.p==='B1'"},{"joinaggregate":[{"op":"count","as":"n"}],"groupby":["g","v"]},{"window":[{"op":"row_number","as":"r"}],"groupby":["g","v"]},{"calculate":"(datum.r-(datum.n+1)/2)*min(1,4/max(1,datum.n-1))","as":"off"}],
     "mark":{"type":"point","filled":true,"stroke":"black","strokeWidth":1,"size":20,"opacity":1},
     "encoding":{"y":{"field":"v","type":"quantitative","scale":{"domain":[0,0.1],"nice":false},"title":"(tNAA/H₂O) x 10⁻³","axis":{"values":[0,0.02,0.04,0.06,0.08,0.1],"format":".2f","labelOverlap":false,"tickCount":20}},
      "xOffset":{"field":"off","type":"quantitative","scale":{"domain":[-1,1],"range":[-7.5,7.5]}},
      "shape":{"field":"g","type":"nominal","scale":{"domain":["PN","TN"],"range":["circle","square"]},"legend":null},
      "fill":{"field":"g","type":"nominal","scale":{"domain":["PN","TN"],"range":["black","white"]},"legend":null}}},
    {"transform":[{"filter":"datum.p==='B1'"}],"mark":{"type":"tick","size":36,"thickness":1.5,"color":"black","opacity":1},"encoding":{"y":{"aggregate":"mean","field":"v","type":"quantitative","scale":{"domain":[0,0.1],"nice":false},"title":"(tNAA/H₂O) x 10⁻³","axis":{"values":[0,0.02,0.04,0.06,0.08,0.1],"format":".2f","labelOverlap":false,"tickCount":20}}}},
    {"transform":[{"filter":"datum.p==='B1'"}],"mark":{"type":"errorbar","extent":"stderr","color":"black","thickness":1.5,"size":20,"ticks":true},"encoding":{"y":{"field":"v","type":"quantitative","scale":{"domain":[0,0.1],"nice":false},"title":"(tNAA/H₂O) x 10⁻³","axis":{"values":[0,0.02,0.04,0.06,0.08,0.1],"format":".2f","labelOverlap":false,"tickCount":20}}}},
    {"data":{"values":[{}]},"mark":{"type":"rule","color":"black","strokeWidth":2},"encoding":{"x":{"datum":"PN"},"x2":{"datum":"TN"},"y":{"datum":0.1}}},
    {"data":{"values":[{"g":"PN"},{"g":"TN"}]},"mark":{"type":"point","shape":"M0,-1L0,1","size":64,"stroke":"black","strokeWidth":2,"opacity":1},"encoding":{"y":{"datum":0.1}}}
   ]},
  {"width":118,"height":114,"title":{"text":"P=0.034","fontWeight":"bold"},
   "encoding":{"x":{"field":"g","type":"nominal","scale":{"type":"point","domain":["PN","TN"],"padding":0.58},"axis":{"title":null}}},
   "layer":[
    {"transform":[{"filter":"datum.p==='B2'"},{"joinaggregate":[{"op":"count","as":"n"}],"groupby":["g","v"]},{"window":[{"op":"row_number","as":"r"}],"groupby":["g","v"]},{"calculate":"(datum.r-(datum.n+1)/2)*min(1,4/max(1,datum.n-1))","as":"off"}],
     "mark":{"type":"point","filled":true,"stroke":"black","strokeWidth":1,"size":20,"opacity":1},
     "encoding":{"y":{"field":"v","type":"quantitative","scale":{"domain":[0,0.1],"nice":false},"title":"(tCr/H₂O) x 10⁻³","axis":{"values":[0,0.02,0.04,0.06,0.08,0.1],"format":".2f","labelOverlap":false,"tickCount":20}},
      "xOffset":{"field":"off","type":"quantitative","scale":{"domain":[-1,1],"range":[-7.5,7.5]}},
      "shape":{"field":"g","type":"nominal","scale":{"domain":["PN","TN"],"range":["circle","square"]},"legend":null},
      "fill":{"field":"g","type":"nominal","scale":{"domain":["PN","TN"],"range":["black","white"]},"legend":null}}},
    {"transform":[{"filter":"datum.p==='B2'"}],"mark":{"type":"tick","size":36,"thickness":1.5,"color":"black","opacity":1},"encoding":{"y":{"aggregate":"mean","field":"v","type":"quantitative","scale":{"domain":[0,0.1],"nice":false},"title":"(tCr/H₂O) x 10⁻³","axis":{"values":[0,0.02,0.04,0.06,0.08,0.1],"format":".2f","labelOverlap":false,"tickCount":20}}}},
    {"transform":[{"filter":"datum.p==='B2'"}],"mark":{"type":"errorbar","extent":"stderr","color":"black","thickness":1.5,"size":20,"ticks":true},"encoding":{"y":{"field":"v","type":"quantitative","scale":{"domain":[0,0.1],"nice":false},"title":"(tCr/H₂O) x 10⁻³","axis":{"values":[0,0.02,0.04,0.06,0.08,0.1],"format":".2f","labelOverlap":false,"tickCount":20}}}},
    {"data":{"values":[{}]},"mark":{"type":"rule","color":"black","strokeWidth":2},"encoding":{"x":{"datum":"PN"},"x2":{"datum":"TN"},"y":{"datum":0.1}}},
    {"data":{"values":[{"g":"PN"},{"g":"TN"}]},"mark":{"type":"point","shape":"M0,-1L0,1","size":64,"stroke":"black","strokeWidth":2,"opacity":1},"encoding":{"y":{"datum":0.1}}}
   ]},
  {"width":118,"height":114,"title":{"text":"P=0.6403"},
   "encoding":{"x":{"field":"g","type":"nominal","scale":{"type":"point","domain":["PN","TN"],"padding":0.58},"axis":{"title":null}}},
   "layer":[
    {"transform":[{"filter":"datum.p==='B3'"},{"joinaggregate":[{"op":"count","as":"n"}],"groupby":["g","v"]},{"window":[{"op":"row_number","as":"r"}],"groupby":["g","v"]},{"calculate":"(datum.r-(datum.n+1)/2)*min(1,4/max(1,datum.n-1))","as":"off"}],
     "mark":{"type":"point","filled":true,"stroke":"black","strokeWidth":1,"size":20,"opacity":1},
     "encoding":{"y":{"field":"v","type":"quantitative","scale":{"domain":[0,0.06],"nice":false},"title":"(tCho/H₂O) x10⁻³","axis":{"values":[0,0.02,0.04,0.06],"format":".2f","labelOverlap":false,"tickCount":20}},
      "xOffset":{"field":"off","type":"quantitative","scale":{"domain":[-1,1],"range":[-7.5,7.5]}},
      "shape":{"field":"g","type":"nominal","scale":{"domain":["PN","TN"],"range":["circle","square"]},"legend":null},
      "fill":{"field":"g","type":"nominal","scale":{"domain":["PN","TN"],"range":["black","white"]},"legend":null}}},
    {"transform":[{"filter":"datum.p==='B3'"}],"mark":{"type":"tick","size":36,"thickness":1.5,"color":"black","opacity":1},"encoding":{"y":{"aggregate":"mean","field":"v","type":"quantitative","scale":{"domain":[0,0.06],"nice":false},"title":"(tCho/H₂O) x10⁻³","axis":{"values":[0,0.02,0.04,0.06],"format":".2f","labelOverlap":false,"tickCount":20}}}},
    {"transform":[{"filter":"datum.p==='B3'"}],"mark":{"type":"errorbar","extent":"stderr","color":"black","thickness":1.5,"size":20,"ticks":true},"encoding":{"y":{"field":"v","type":"quantitative","scale":{"domain":[0,0.06],"nice":false},"title":"(tCho/H₂O) x10⁻³","axis":{"values":[0,0.02,0.04,0.06],"format":".2f","labelOverlap":false,"tickCount":20}}}},
    {"data":{"values":[{}]},"mark":{"type":"rule","color":"black","strokeWidth":2},"encoding":{"x":{"datum":"PN"},"x2":{"datum":"TN"},"y":{"datum":0.06}}},
    {"data":{"values":[{"g":"PN"},{"g":"TN"}]},"mark":{"type":"point","shape":"M0,-1L0,1","size":64,"stroke":"black","strokeWidth":2,"opacity":1},"encoding":{"y":{"datum":0.06}}}
   ]},
  {"width":118,"height":114,"title":{"text":"P=0.0329","fontWeight":"bold"},
   "encoding":{"x":{"field":"g","type":"nominal","scale":{"type":"point","domain":["PN","TN"],"padding":0.58},"axis":{"title":null}}},
   "layer":[
    {"transform":[{"filter":"datum.p==='B4'"},{"joinaggregate":[{"op":"count","as":"n"}],"groupby":["g","v"]},{"window":[{"op":"row_number","as":"r"}],"groupby":["g","v"]},{"calculate":"(datum.r-(datum.n+1)/2)*min(1,4/max(1,datum.n-1))","as":"off"}],
     "mark":{"type":"point","filled":true,"stroke":"black","strokeWidth":1,"size":20,"opacity":1},
     "encoding":{"y":{"field":"v","type":"quantitative","scale":{"domain":[0,0.15],"nice":false},"title":"(Glx/H₂O) x 10⁻³","axis":{"values":[0,0.05,0.1,0.15],"format":".2f","labelOverlap":false,"tickCount":20}},
      "xOffset":{"field":"off","type":"quantitative","scale":{"domain":[-1,1],"range":[-7.5,7.5]}},
      "shape":{"field":"g","type":"nominal","scale":{"domain":["PN","TN"],"range":["circle","square"]},"legend":null},
      "fill":{"field":"g","type":"nominal","scale":{"domain":["PN","TN"],"range":["black","white"]},"legend":null}}},
    {"transform":[{"filter":"datum.p==='B4'"}],"mark":{"type":"tick","size":36,"thickness":1.5,"color":"black","opacity":1},"encoding":{"y":{"aggregate":"mean","field":"v","type":"quantitative","scale":{"domain":[0,0.15],"nice":false},"title":"(Glx/H₂O) x 10⁻³","axis":{"values":[0,0.05,0.1,0.15],"format":".2f","labelOverlap":false,"tickCount":20}}}},
    {"transform":[{"filter":"datum.p==='B4'"}],"mark":{"type":"errorbar","extent":"stderr","color":"black","thickness":1.5,"size":20,"ticks":true},"encoding":{"y":{"field":"v","type":"quantitative","scale":{"domain":[0,0.15],"nice":false},"title":"(Glx/H₂O) x 10⁻³","axis":{"values":[0,0.05,0.1,0.15],"format":".2f","labelOverlap":false,"tickCount":20}}}},
    {"data":{"values":[{}]},"mark":{"type":"rule","color":"black","strokeWidth":2},"encoding":{"x":{"datum":"PN"},"x2":{"datum":"TN"},"y":{"datum":0.15}}},
    {"data":{"values":[{"g":"PN"},{"g":"TN"}]},"mark":{"type":"point","shape":"M0,-1L0,1","size":64,"stroke":"black","strokeWidth":2,"opacity":1},"encoding":{"y":{"datum":0.15}}}
   ]}
  ]},
 {"spacing":29,
  "hconcat":[
  {"width":118,"height":114,"title":{"text":"P=0.9284"},
   "encoding":{"x":{"field":"g","type":"nominal","scale":{"type":"point","domain":["PN","TN"],"padding":0.58},"axis":{"title":null}}},
   "layer":[
    {"transform":[{"filter":"datum.p==='B5'"},{"joinaggregate":[{"op":"count","as":"n"}],"groupby":["g","v"]},{"window":[{"op":"row_number","as":"r"}],"groupby":["g","v"]},{"calculate":"(datum.r-(datum.n+1)/2)*min(1,4/max(1,datum.n-1))","as":"off"}],
     "mark":{"type":"point","filled":true,"stroke":"black","strokeWidth":1,"size":20,"opacity":1},
     "encoding":{"y":{"field":"v","type":"quantitative","scale":{"domain":[0,0.025],"nice":false},"title":"(lactate/H₂O) x 10⁻³","axis":{"values":[0,0.005,0.01,0.015,0.02,0.025],"format":".3f","labelOverlap":false,"tickCount":20}},
      "xOffset":{"field":"off","type":"quantitative","scale":{"domain":[-1,1],"range":[-7.5,7.5]}},
      "shape":{"field":"g","type":"nominal","scale":{"domain":["PN","TN"],"range":["circle","square"]},"legend":null},
      "fill":{"field":"g","type":"nominal","scale":{"domain":["PN","TN"],"range":["black","white"]},"legend":null}}},
    {"transform":[{"filter":"datum.p==='B5'"}],"mark":{"type":"tick","size":36,"thickness":1.5,"color":"black","opacity":1},"encoding":{"y":{"aggregate":"mean","field":"v","type":"quantitative","scale":{"domain":[0,0.025],"nice":false},"title":"(lactate/H₂O) x 10⁻³","axis":{"values":[0,0.005,0.01,0.015,0.02,0.025],"format":".3f","labelOverlap":false,"tickCount":20}}}},
    {"transform":[{"filter":"datum.p==='B5'"}],"mark":{"type":"errorbar","extent":"stderr","color":"black","thickness":1.5,"size":20,"ticks":true},"encoding":{"y":{"field":"v","type":"quantitative","scale":{"domain":[0,0.025],"nice":false},"title":"(lactate/H₂O) x 10⁻³","axis":{"values":[0,0.005,0.01,0.015,0.02,0.025],"format":".3f","labelOverlap":false,"tickCount":20}}}},
    {"data":{"values":[{}]},"mark":{"type":"rule","color":"black","strokeWidth":2},"encoding":{"x":{"datum":"PN"},"x2":{"datum":"TN"},"y":{"datum":0.025}}},
    {"data":{"values":[{"g":"PN"},{"g":"TN"}]},"mark":{"type":"point","shape":"M0,-1L0,1","size":64,"stroke":"black","strokeWidth":2,"opacity":1},"encoding":{"y":{"datum":0.025}}}
   ]},
  {"width":118,"height":114,"title":{"text":"P=0.3948"},
   "encoding":{"x":{"field":"g","type":"nominal","scale":{"type":"point","domain":["PN","TN"],"padding":0.58},"axis":{"title":null}}},
   "layer":[
    {"transform":[{"filter":"datum.p==='B6'"},{"joinaggregate":[{"op":"count","as":"n"}],"groupby":["g","v"]},{"window":[{"op":"row_number","as":"r"}],"groupby":["g","v"]},{"calculate":"(datum.r-(datum.n+1)/2)*min(1,4/max(1,datum.n-1))","as":"off"}],
     "mark":{"type":"point","shape":"circle","filled":true,"stroke":"black","strokeWidth":1,"size":20,"opacity":1},
     "encoding":{"y":{"field":"v","type":"quantitative","scale":{"domain":[0,0.2],"nice":false},"title":"((myo-Ins+Gly)/H₂O) x10⁻³","axis":{"values":[0,0.05,0.1,0.15,0.2],"format":".2f","labelOverlap":false,"tickCount":20}},
      "xOffset":{"field":"off","type":"quantitative","scale":{"domain":[-1,1],"range":[-7.5,7.5]}},
      "fill":{"field":"g","type":"nominal","scale":{"domain":["PN","TN"],"range":["black","white"]},"legend":null}}},
    {"transform":[{"filter":"datum.p==='B6'"}],"mark":{"type":"tick","size":36,"thickness":1.5,"color":"black","opacity":1},"encoding":{"y":{"aggregate":"mean","field":"v","type":"quantitative","scale":{"domain":[0,0.2],"nice":false},"title":"((myo-Ins+Gly)/H₂O) x10⁻³","axis":{"values":[0,0.05,0.1,0.15,0.2],"format":".2f","labelOverlap":false,"tickCount":20}}}},
    {"transform":[{"filter":"datum.p==='B6'"}],"mark":{"type":"errorbar","extent":"stderr","color":"black","thickness":1.5,"size":20,"ticks":true},"encoding":{"y":{"field":"v","type":"quantitative","scale":{"domain":[0,0.2],"nice":false},"title":"((myo-Ins+Gly)/H₂O) x10⁻³","axis":{"values":[0,0.05,0.1,0.15,0.2],"format":".2f","labelOverlap":false,"tickCount":20}}}},
    {"data":{"values":[{}]},"mark":{"type":"rule","color":"black","strokeWidth":2},"encoding":{"x":{"datum":"PN"},"x2":{"datum":"TN"},"y":{"datum":0.2}}},
    {"data":{"values":[{"g":"PN"},{"g":"TN"}]},"mark":{"type":"point","shape":"M0,-1L0,1","size":64,"stroke":"black","strokeWidth":2,"opacity":1},"encoding":{"y":{"datum":0.2}}}
   ]},
  {"width":118,"height":114,"title":{"text":"P=0.8496"},
   "encoding":{"x":{"field":"g","type":"nominal","scale":{"type":"point","domain":["PN","TN"],"padding":0.58},"axis":{"title":null}}},
   "layer":[
    {"transform":[{"filter":"datum.p==='B7'"},{"joinaggregate":[{"op":"count","as":"n"}],"groupby":["g","v"]},{"window":[{"op":"row_number","as":"r"}],"groupby":["g","v"]},{"calculate":"(datum.r-(datum.n+1)/2)*min(1,4/max(1,datum.n-1))","as":"off"}],
     "mark":{"type":"point","filled":true,"stroke":"black","strokeWidth":1,"size":20,"opacity":1},
     "encoding":{"y":{"field":"v","type":"quantitative","scale":{"domain":[0,0.015],"nice":false},"title":"(scyllo-Ins/H₂O) x 10⁻³","axis":{"values":[0,0.005,0.01,0.015],"format":".3f","labelOverlap":false,"tickCount":20}},
      "xOffset":{"field":"off","type":"quantitative","scale":{"domain":[-1,1],"range":[-7.5,7.5]}},
      "shape":{"field":"g","type":"nominal","scale":{"domain":["PN","TN"],"range":["circle","square"]},"legend":null},
      "fill":{"field":"g","type":"nominal","scale":{"domain":["PN","TN"],"range":["black","white"]},"legend":null}}},
    {"transform":[{"filter":"datum.p==='B7'"}],"mark":{"type":"tick","size":36,"thickness":1.5,"color":"black","opacity":1},"encoding":{"y":{"aggregate":"mean","field":"v","type":"quantitative","scale":{"domain":[0,0.015],"nice":false},"title":"(scyllo-Ins/H₂O) x 10⁻³","axis":{"values":[0,0.005,0.01,0.015],"format":".3f","labelOverlap":false,"tickCount":20}}}},
    {"transform":[{"filter":"datum.p==='B7'"}],"mark":{"type":"errorbar","extent":"stderr","color":"black","thickness":1.5,"size":20,"ticks":true},"encoding":{"y":{"field":"v","type":"quantitative","scale":{"domain":[0,0.015],"nice":false},"title":"(scyllo-Ins/H₂O) x 10⁻³","axis":{"values":[0,0.005,0.01,0.015],"format":".3f","labelOverlap":false,"tickCount":20}}}},
    {"data":{"values":[{}]},"mark":{"type":"rule","color":"black","strokeWidth":2},"encoding":{"x":{"datum":"PN"},"x2":{"datum":"TN"},"y":{"datum":0.015}}},
    {"data":{"values":[{"g":"PN"},{"g":"TN"}]},"mark":{"type":"point","shape":"M0,-1L0,1","size":64,"stroke":"black","strokeWidth":2,"opacity":1},"encoding":{"y":{"datum":0.015}}}
   ]},
  {"width":118,"height":114,"title":{"text":"P=0.8684"},
   "encoding":{"x":{"field":"g","type":"nominal","scale":{"type":"point","domain":["PN","TN"],"padding":0.58},"axis":{"title":null}}},
   "layer":[
    {"transform":[{"filter":"datum.p==='B8'"},{"joinaggregate":[{"op":"count","as":"n"}],"groupby":["g","v"]},{"window":[{"op":"row_number","as":"r"}],"groupby":["g","v"]},{"calculate":"(datum.r-(datum.n+1)/2)*min(1,4/max(1,datum.n-1))","as":"off"}],
     "mark":{"type":"point","filled":true,"stroke":"black","strokeWidth":1,"size":20,"opacity":1},
     "encoding":{"y":{"field":"v","type":"quantitative","scale":{"domain":[0,0.08],"nice":false},"title":"(taurine/H₂O) x 10⁻³","axis":{"values":[0,0.02,0.04,0.06,0.08],"format":".2f","labelOverlap":false,"tickCount":20}},
      "xOffset":{"field":"off","type":"quantitative","scale":{"domain":[-1,1],"range":[-7.5,7.5]}},
      "shape":{"field":"g","type":"nominal","scale":{"domain":["PN","TN"],"range":["circle","square"]},"legend":null},
      "fill":{"field":"g","type":"nominal","scale":{"domain":["PN","TN"],"range":["black","white"]},"legend":null}}},
    {"transform":[{"filter":"datum.p==='B8'"}],"mark":{"type":"tick","size":36,"thickness":1.5,"color":"black","opacity":1},"encoding":{"y":{"aggregate":"mean","field":"v","type":"quantitative","scale":{"domain":[0,0.08],"nice":false},"title":"(taurine/H₂O) x 10⁻³","axis":{"values":[0,0.02,0.04,0.06,0.08],"format":".2f","labelOverlap":false,"tickCount":20}}}},
    {"transform":[{"filter":"datum.p==='B8'"}],"mark":{"type":"errorbar","extent":"stderr","color":"black","thickness":1.5,"size":20,"ticks":true},"encoding":{"y":{"field":"v","type":"quantitative","scale":{"domain":[0,0.08],"nice":false},"title":"(taurine/H₂O) x 10⁻³","axis":{"values":[0,0.02,0.04,0.06,0.08],"format":".2f","labelOverlap":false,"tickCount":20}}}},
    {"data":{"values":[{}]},"mark":{"type":"rule","color":"black","strokeWidth":2},"encoding":{"x":{"datum":"PN"},"x2":{"datum":"TN"},"y":{"datum":0.08}}},
    {"data":{"values":[{"g":"PN"},{"g":"TN"}]},"mark":{"type":"point","shape":"M0,-1L0,1","size":64,"stroke":"black","strokeWidth":2,"opacity":1},"encoding":{"y":{"datum":0.08}}}
   ]}
  ]}
 ]}
]
}
